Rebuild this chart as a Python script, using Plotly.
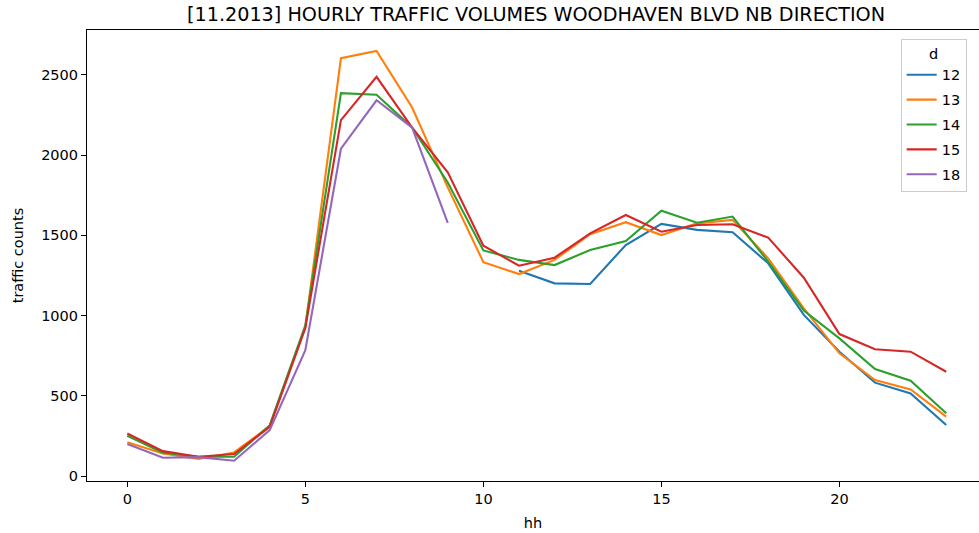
import plotly.graph_objects as go

hours = list(range(24))

# values per day (None = missing)
d12 = [None]*11 + [1280, 1201, 1197, 1440, 1571, 1534, 1519, 1326, 1004, 775, 582, 515, 318]
d13 = [211, 141, 106, 147, 311, 929, 2604, 2649, 2297, 1799, 1333, 1259, 1347, 1507, 1582, 1502, 1575, 1596, 1357, 1045, 765, 598, 540, 370]
d14 = [251, 145, 120, 120, 317, 939, 2386, 2376, 2172, 1830, 1406, 1347, 1315, 1409, 1465, 1654, 1579, 1617, 1336, 1031, 858, 667, 594, 391]
d15 = [265, 155, 120, 137, 307, 922, 2218, 2488, 2172, 1893, 1436, 1311, 1361, 1513, 1627, 1523, 1565, 1569, 1486, 1236, 885, 790, 775, 650]
d18 = [199, 114, 118, 95, 286, 784, 2040, 2342, 2172, 1578] + [None]*14

series_names = ["12", "13", "14", "15", "18"]
series_values = [d12, d13, d14, d15, d18]
colors = ["#1f77b4", "#ff7f0e", "#2ca02c", "#d62728", "#9467bd"]

x_ticks = [0, 5, 10, 15, 20]
y_ticks = [0, 500, 1000, 1500, 2000, 2500]

fig = go.Figure()
for name, vals, c in zip(series_names, series_values, colors):
    fig.add_trace(go.Scatter(x=hours, y=vals, mode="lines", name=name,
                             legendgroup=name,
                             line=dict(color=c, width=2.1)))

font = "DejaVu Sans"
fs = 14.5
fig.update_layout(
    width=979, height=533,
    margin=dict(l=87, r=0, t=30, b=52, autoexpand=False),
    paper_bgcolor="white", plot_bgcolor="white",
    font=dict(family=font, size=fs, color="black"),
    title=dict(text="[11.2013] HOURLY TRAFFIC VOLUMES WOODHAVEN BLVD NB DIRECTION",
               x=536/979, xref="container", xanchor="center",
               y=1-14/533, yref="container", yanchor="middle",
               font=dict(family=font, size=19.2, color="black")),
    xaxis=dict(range=[-1.132, 23.92], tickvals=x_ticks, showgrid=False, zeroline=False,
               showline=True, linecolor="black", linewidth=1.1, mirror=True,
               ticks="outside", ticklen=5, tickwidth=1.1, tickcolor="black",
               automargin=False, tickfont=dict(size=fs),
               title=dict(text="hh", standoff=11, font=dict(size=fs))),
    yaxis=dict(range=[-31, 2780], tickvals=y_ticks, showgrid=False, zeroline=False,
               showline=True, linecolor="black", linewidth=1.1, mirror=False,
               ticks="outside", ticklen=5, tickwidth=1.1, tickcolor="black",
               automargin=False, tickfont=dict(size=fs),
               title=dict(text="traffic counts", standoff=14, font=dict(size=fs))),
    legend=dict(title=dict(text="d", side="top center", font=dict(size=fs)),
                x=(900.7-87)/892, xanchor="left", y=(481-39)/451, yanchor="top",
                bgcolor="rgba(255,255,255,0.8)", bordercolor="#cccccc", borderwidth=1,
                tracegroupgap=3, font=dict(size=fs)),
    showlegend=True,
)

fig.write_html("out.html", config={"displayModeBar": False},
               post_script="document.body.style.margin='0';document.body.style.overflow='hidden';")
